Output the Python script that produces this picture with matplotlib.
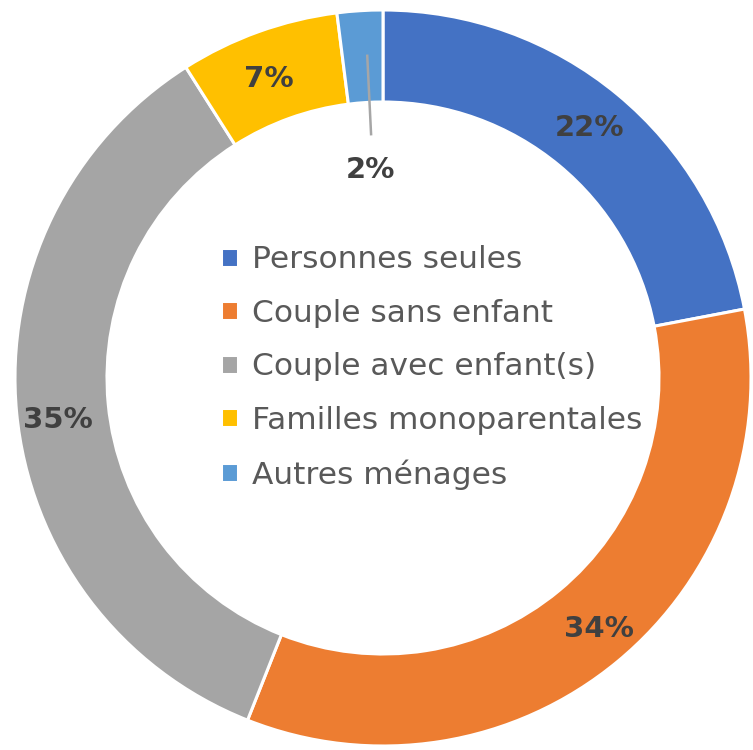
import numpy as np
import matplotlib.pyplot as plt

categories = ['Personnes seules', 'Couple sans enfant', 'Couple avec enfant(s)',
              'Familles monoparentales', 'Autres ménages']
shares = [22, 34, 35, 7, 2]
colors = ['#4472C4', '#ED7D31', '#A5A5A5', '#FFC000', '#5B9BD5']

W, H = 753, 750
CX, CY = 383, H - 378
R = 368
RING = 0.25

fig = plt.figure(figsize=(W / 100, H / 100), dpi=100)
ax = fig.add_axes([0, 0, 1, 1])

wedges, _ = ax.pie(shares, colors=colors, startangle=90, counterclock=False,
                   center=(CX, CY), radius=R,
                   wedgeprops=dict(width=R * RING, edgecolor='white', linewidth=2.2))
ax.set_xlim(0, W)
ax.set_ylim(0, H)
ax.set_aspect('equal')
ax.axis('off')

# angle (clockwise from top) of each wedge middle
cum = np.cumsum(shares)
mids = (cum - np.array(shares) / 2) / sum(shares) * 360

def polar(ang, r):
    a = np.deg2rad(90 - ang)
    return CX + r * np.cos(a), CY + r * np.sin(a)

lab_font = dict(fontsize=21, fontweight='bold', color='#404040', family='DejaVu Sans')
lab_r = [0.88, 0.90, 0.89, 0.87]
lab_shift = [0, -1, -2, -1]
for i in range(4):
    x, y = polar(mids[i] + lab_shift[i], R * lab_r[i])
    ax.text(x, y, '{}%'.format(shares[i]), ha='center', va='center', **lab_font)

# small slice: label inside with leader line
x0, y0 = polar(mids[4] + 0.8, R * 0.88)
x1, y1 = polar(mids[4] + 0.8, R * 0.66)
ax.plot([x0, x1], [y0, y1], color='#A6A6A6', lw=1.8, solid_capstyle='butt')
xl, yl = polar(mids[4], R * 0.565)
ax.text(xl, yl, '{}%'.format(shares[4]), ha='center', va='center', **lab_font)

leg = ax.legend(wedges, categories, loc='center', bbox_to_anchor=(0.573, 0.51),
                frameon=False, prop=dict(family='DejaVu Sans', size=22.5),
                handlelength=0.56, handleheight=0.56, handletextpad=0.42,
                labelspacing=0.78)
for t in leg.get_texts():
    t.set_color('#595959')

fig.savefig('out.png', dpi=100)
